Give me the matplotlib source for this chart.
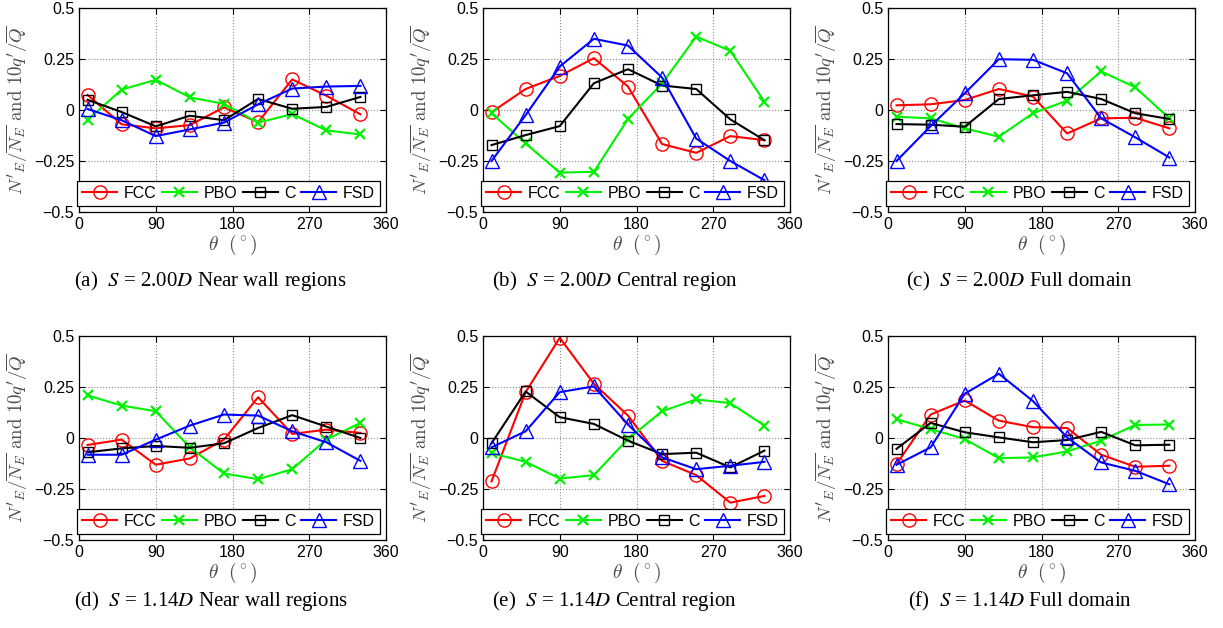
import matplotlib
matplotlib.use("Agg")
import matplotlib.pyplot as plt

# angular positions (deg)
theta = [10, 50, 90, 130, 170, 210, 250, 290, 330]

series_names = ["FCC", "PBO", "C", "FSD"]

# (a) S = 2.00D near wall regions
a_fcc = [0.074, -0.07, -0.09, -0.074, 0.013, -0.06, 0.15, 0.07, -0.021]
a_pbo = [-0.049, 0.10, 0.148, 0.062, 0.03, -0.062, -0.02, -0.10, -0.12]
a_c = [0.05, -0.01, -0.08, -0.028, -0.05, 0.054, 0.006, 0.015, 0.064]
a_fsd = [0.005, -0.05, -0.128, -0.095, -0.062, 0.028, 0.105, 0.115, 0.118]

# (b) S = 2.00D central region
b_fcc = [-0.011, 0.103, 0.167, 0.254, 0.115, -0.167, -0.21, -0.128, -0.148]
b_pbo = [-0.016, -0.164, -0.307, -0.303, -0.044, 0.13, 0.36, 0.29, 0.041]
b_c = [-0.172, -0.123, -0.079, 0.131, 0.20, 0.12, 0.103, -0.046, -0.148]
b_fsd = [-0.25, -0.025, 0.213, 0.349, 0.316, 0.159, -0.14, -0.25, -0.344]

# (c) S = 2.00D full domain
c_fcc = [0.023, 0.028, 0.049, 0.103, 0.066, -0.115, -0.041, -0.038, -0.09]
c_pbo = [-0.033, -0.041, -0.09, -0.131, -0.016, 0.046, 0.189, 0.111, -0.041]
c_c = [-0.069, -0.072, -0.082, 0.054, 0.072, 0.089, 0.054, -0.016, -0.044]
c_fsd = [-0.25, -0.079, 0.082, 0.249, 0.246, 0.18, -0.041, -0.134, -0.233]

# (d) S = 1.14D near wall regions
d_fcc = [-0.034, -0.008, -0.131, -0.10, -0.008, 0.20, 0.02, 0.041, 0.025]
d_pbo = [0.209, 0.159, 0.131, -0.046, -0.174, -0.202, -0.153, -0.008, 0.074]
d_c = [-0.07, -0.051, -0.039, -0.048, -0.026, 0.049, 0.112, 0.056, 0.0]
d_fsd = [-0.082, -0.082, -0.008, 0.061, 0.115, 0.11, 0.033, -0.021, -0.112]

# (e) S = 1.14D central region
e_fcc = [-0.213, 0.225, 0.491, 0.266, 0.11, -0.112, -0.182, -0.317, -0.284]
e_pbo = [-0.074, -0.117, -0.199, -0.182, -0.005, 0.131, 0.189, 0.171, 0.061]
e_c = [-0.026, 0.228, 0.102, 0.069, -0.013, -0.079, -0.072, -0.144, -0.062]
e_fsd = [-0.046, 0.033, 0.225, 0.253, 0.066, -0.095, -0.153, -0.136, -0.117]

# (f) S = 1.14D full domain
f_fcc = [-0.128, 0.115, 0.184, 0.085, 0.053, 0.049, -0.082, -0.141, -0.136]
f_pbo = [0.092, 0.044, -0.005, -0.099, -0.095, -0.066, -0.013, 0.064, 0.066]
f_c = [-0.053, 0.074, 0.028, 0.003, -0.021, -0.01, 0.03, -0.036, -0.033]
f_fsd = [-0.131, -0.046, 0.217, 0.315, 0.181, 0.003, -0.12, -0.161, -0.227]

captions = [
    r"(a)  $S$ = 2.00$D$ Near wall regions",
    r"(b)  $S$ = 2.00$D$ Central region",
    r"(c)  $S$ = 2.00$D$ Full domain",
    r"(d)  $S$ = 1.14$D$ Near wall regions",
    r"(e)  $S$ = 1.14$D$ Central region",
    r"(f)  $S$ = 1.14$D$ Full domain",
]

panels = [
    [a_fcc, a_pbo, a_c, a_fsd],
    [b_fcc, b_pbo, b_c, b_fsd],
    [c_fcc, c_pbo, c_c, c_fsd],
    [d_fcc, d_pbo, d_c, d_fsd],
    [e_fcc, e_pbo, e_c, e_fsd],
    [f_fcc, f_pbo, f_c, f_fsd],
]

styles = [
    dict(color=(1, 0, 0), marker="o", markersize=9.5),
    dict(color=(0, 0.95, 0), marker="x", markersize=6.5, markeredgewidth=1.6),
    dict(color="black", marker="s", markersize=6.5),
    dict(color=(0, 0, 1), marker="^", markersize=10),
]

plt.rcParams["font.family"] = ["Liberation Sans", "DejaVu Sans"]
plt.rcParams["mathtext.fontset"] = "cm"

W, H = 1223, 628
fig = plt.figure(figsize=(W / 100, H / 100), dpi=100)

lefts = [79, 483, 888]
tops = [8, 336]
ax_w, ax_h = 307, 204
caption_y = [281, 601]

for i, (data, cap) in enumerate(zip(panels, captions)):
    row, col = divmod(i, 3)
    x0 = lefts[col]
    y0 = tops[row]
    ax = fig.add_axes([x0 / W, 1 - (y0 + ax_h) / H, ax_w / W, ax_h / H])

    for name, vals, st in zip(series_names, data, styles):
        ax.plot(theta, vals, linewidth=1.5, markerfacecolor="none",
                label=name, **st)

    ax.set_xlim(0, 360)
    ax.set_ylim(-0.5, 0.5)
    ax.set_xticks([0, 90, 180, 270, 360])
    ax.set_yticks([-0.5, -0.25, 0, 0.25, 0.5])
    ax.set_yticklabels(["\u22120.5", "\u22120.25", "0", "0.25", "0.5"])
    ax.tick_params(direction="in", top=True, right=True, length=4,
                   labelsize=11.5, width=0.8)
    ax.grid(True, linestyle=":", color="0.55", linewidth=0.8)
    for sp in ax.spines.values():
        sp.set_linewidth(0.9)

    ax.set_xlabel(r"$\theta\ \ (^\circ)$", fontsize=14, color="0.3", labelpad=1)
    ax.set_ylabel(r"$N'_E/\overline{N_E}\ \mathrm{and}\ 10q'/\overline{Q}$",
                  fontsize=13.5, color="0.3", labelpad=3)

    leg = ax.legend(loc="lower left", bbox_to_anchor=(-0.006, 0.03, 0.985, 0.117),
                    mode="expand", ncol=4, fontsize=11.5, handlelength=2.2,
                    handletextpad=0.4, columnspacing=0.5, borderaxespad=0,
                    borderpad=0.3, fancybox=False, framealpha=1)
    leg.get_frame().set_edgecolor("black")
    leg.get_frame().set_linewidth(0.9)

    cx = (x0 + ax_w / 2 - 22) / W
    fig.text(cx, 1 - caption_y[row] / H, cap, ha="center", va="center",
             fontsize=15, family="Liberation Serif", math_fontfamily="stix")

fig.savefig("out.png", dpi=100)
